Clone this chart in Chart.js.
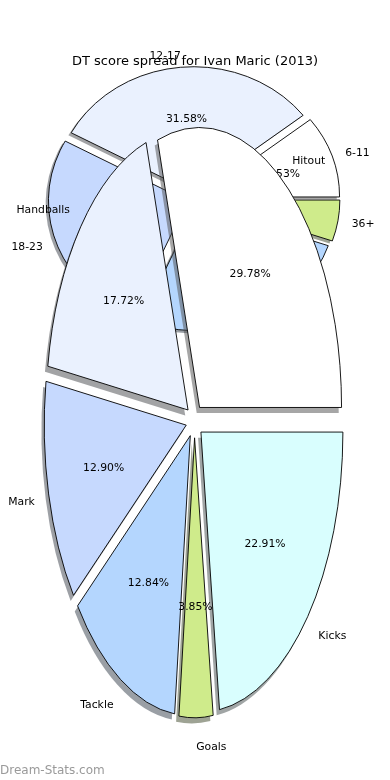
<!DOCTYPE html>
<html>
<head>
<meta charset="utf-8">
<script src="https://cdn.jsdelivr.net/npm/chart.js@4"></script>
<style>
  html, body { margin: 0; padding: 0; background: #fff; }
  #wrap { position: relative; width: 390px; height: 780px; }
  #wrap canvas { position: absolute; left: 0; top: 0; }
</style>
</head>
<body>
<div id="wrap">
  <canvas id="spreadChart" width="390" height="780"></canvas>
  <canvas id="statChart" width="390" height="780"></canvas>
</div>
<script>
  // score spread (games per DT score band), drawn behind
  const spreadLabels = ["6-11", "12-17", "18-23", "24-29", "36+"];
  const spreadGames = [2, 6, 5, 5, 1];

  // where the points came from, drawn in front
  const statLabels = ["Hitout", "Handballs", "Mark", "Tackle", "Goals", "Kicks"];
  const statShare = [29.78, 17.72, 12.90, 12.84, 3.85, 22.91];

  const sliceColors = ["#ffffff", "#eaf1fe", "#c6d9fe", "#b4d6fe", "#cfeb8b", "#d9fefe"];

  const titleText = "DT score spread for Ivan Maric (2013)";

  function shade(hex) {
    const n = parseInt(hex.slice(1), 16);
    const r = (n >> 16) & 255, g = (n >> 8) & 255, b = n & 255;
    return `rgba(${Math.round(r * 0.3)},${Math.round(g * 0.3)},${Math.round(b * 0.3)},0.5)`;
  }

  // matplotlib-ish pie: stretched into an ellipse, exploded, with shadows
  const pieLook = {
    id: "pieLook",
    beforeDatasetsDraw(chart, args, o) {
      const ctx = chart.ctx;
      const arcs = chart.getDatasetMeta(0).data;
      const geo = arcs.map(a => {
        const p = a.getProps(["x", "y", "startAngle", "endAngle", "outerRadius"], true);
        const mid = (p.startAngle + p.endAngle) / 2;
        const rx = p.outerRadius, ry = rx * o.stretch;
        return {
          a, p, mid, rx, ry,
          cx: p.x + Math.cos(mid) * o.explode * rx,
          cy: p.y + Math.sin(mid) * o.explode * ry
        };
      });
      chart.$geo = geo;

      const path = (g, dx, dy) => {
        ctx.beginPath();
        ctx.moveTo(g.cx + dx, g.cy + dy);
        ctx.ellipse(g.cx + dx, g.cy + dy, g.rx, g.ry, 0, g.p.startAngle, g.p.endAngle);
        ctx.closePath();
      };

      ctx.save();
      geo.forEach(g => {
        path(g, -0.02 * g.rx, 0.02 * g.ry);
        ctx.fillStyle = shade(g.a.options.backgroundColor);
        ctx.fill();
      });
      geo.forEach(g => {
        ctx.save();
        ctx.translate(g.cx, g.cy);
        ctx.scale(1, o.stretch);
        ctx.translate(-g.p.x, -g.p.y);
        g.a.draw(ctx);
        ctx.restore();
        path(g, 0, 0);
        ctx.lineWidth = 0.9;
        ctx.strokeStyle = "#000";
        ctx.stroke();
      });
      ctx.restore();
      return false; // slices are drawn above
    },
    afterDraw(chart, args, o) {
      const ctx = chart.ctx;
      const vals = chart.data.datasets[0].data;
      const total = vals.reduce((s, v) => s + v, 0);
      const dy = 1.5; // matplotlib centres on the full text box
      ctx.save();
      ctx.font = '10.8px "DejaVu Sans"';
      ctx.fillStyle = "#000";
      ctx.textBaseline = "middle";
      (chart.$geo || []).forEach((g, i) => {
        const c = Math.cos(g.mid), s = Math.sin(g.mid);
        ctx.textAlign = c > 0 ? "left" : "right";
        ctx.fillText(chart.data.labels[i], g.cx + 1.1 * g.rx * c, g.cy + 1.1 * g.ry * s + dy);
        ctx.textAlign = "center";
        ctx.fillText((vals[i] / total * 100).toFixed(2) + "%", g.cx + 0.6 * g.rx * c, g.cy + 0.6 * g.ry * s + dy);
      });
      if (o.title) {
        ctx.font = '13px "DejaVu Sans"';
        ctx.textAlign = "center";
        ctx.fillText(o.title, 195, 62);
        ctx.font = '12px "DejaVu Sans"';
        ctx.fillStyle = "#9a9a9a";
        ctx.textAlign = "left";
        ctx.fillText("Dream-Stats.com", 0, 771);
      }
      ctx.restore();
    }
  };

  // matplotlib goes counter-clockwise from 3 o'clock, Chart.js clockwise -> reverse
  function makePie(id, labels, values, radius, padding, look) {
    const colors = values.map((v, i) => sliceColors[i % sliceColors.length]);
    return new Chart(document.getElementById(id), {
      type: "pie",
      data: {
        labels: labels.slice().reverse(),
        datasets: [{
          data: values.slice().reverse(),
          backgroundColor: colors.reverse(),
          borderWidth: 0
        }]
      },
      options: {
        responsive: false,
        animation: false,
        devicePixelRatio: 1,
        rotation: 90,
        radius: radius,
        layout: { padding: padding },
        events: [],
        plugins: {
          legend: { display: false },
          tooltip: { enabled: false },
          pieLook: look
        }
      },
      plugins: [pieLook]
    });
  }

  makePie("spreadChart", spreadLabels, spreadGames, 139,
    { left: 0, right: 2, top: 0, bottom: 382 },
    { stretch: 126 / 139, explode: 0.05 });

  makePie("statChart", statLabels, statShare, 142,
    { left: 0, right: 1, top: 62, bottom: 0 },
    { stretch: 280 / 142, explode: 0.06, title: titleText });
</script>
</body>
</html>
